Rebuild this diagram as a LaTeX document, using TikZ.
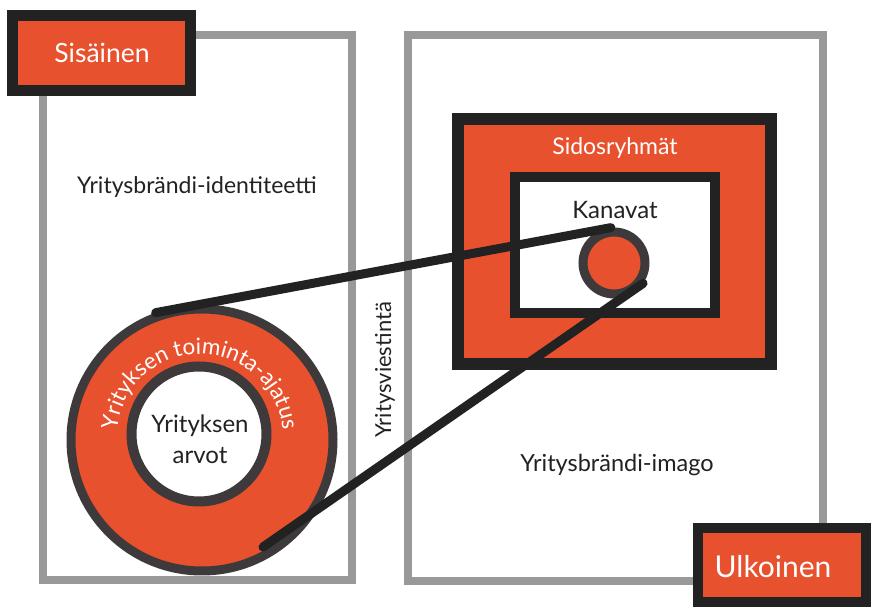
\documentclass[tikz,border=0pt]{standalone}
\usepackage{fontspec}
\setmainfont{Lato}
\usetikzlibrary{decorations.text}
\definecolor{brandorange}{HTML}{E8512E}
\definecolor{inkblack}{HTML}{222222}
\definecolor{ringgray}{HTML}{3E3A3B}
\definecolor{framegray}{HTML}{999999}
\begin{document}
\begin{tikzpicture}[x=1pt,y=1pt,
  frame/.style={draw=framegray, line width=8pt, rectangle, inner sep=0pt},
  inkbox/.style={draw=inkblack, fill=brandorange, line width=11pt, rectangle, inner sep=0pt},
  hole/.style={draw=inkblack, fill=white, line width=10pt, rectangle, inner sep=0pt},
  disc/.style={circle, draw=ringgray, fill=brandorange, inner sep=0pt},
  belt/.style={draw=inkblack, line width=9pt, line cap=round},
  lbl/.style={font=\fontsize{23}{26}\selectfont, text=inkblack, inner sep=0pt},
  wlbl/.style={font=\fontsize{23}{26}\selectfont, text=white, inner sep=0pt},
  biglbl/.style={text=white, inner sep=0pt}]
\path[use as bounding box, clip] (0,0) rectangle (871,607);
\fill[white] (0,0) rectangle (871,607);
% frames
\node[frame, minimum width=309, minimum height=545] (inside) at (197.5,299.5) {};
\node[frame, minimum width=415, minimum height=546] (outside) at (615.5,299) {};
% stakeholders / channels
\node[inkbox, line width=12pt, minimum width=313, minimum height=245] (sidos) at (614.5,365.5) {};
\node[hole, minimum width=200, minimum height=136] (kanavabox) at (615,362) {};
\node[wlbl] (sidoslbl) at (615,459) {Sidosryhmät};
\node[lbl, font=\fontsize{24}{26}\selectfont] (kanavat) at (615,397) {Kanavat};
\node[disc, line width=9pt, minimum size=62] (chan) at (614,344) {};
% big ring
\node[disc, line width=9pt, minimum size=262] (ring) at (202,167) {};
\node[circle, draw=ringgray, fill=white, line width=10pt, minimum size=135, inner sep=0pt] (core) at (199,173) {};
\path[decorate, decoration={text along path, text align=center,
  text={|\fontsize{22.5}{26}\selectfont\color{white}|Yrityksen toiminta-ajatus}}]
  (200,170) ++(200:83) arc[start angle=200, end angle=-20, radius=83];
\node[lbl, font=\fontsize{24}{26}\selectfont, align=center] (arvot) at (200,168) {Yrityksen\\[5pt]arvot};
% texts
\node[lbl] (ident) at (197,420) {Yritysbrändi-identiteetti};
\node[lbl, font=\fontsize{23.5}{26}\selectfont] (imago) at (617,142) {Yritysbrändi-imago};
\node[lbl, font=\fontsize{22}{26}\selectfont, rotate=90] (viest) at (385,237) {Yritysviestintä};
% belts
\coordinate (b2s) at (263,60);
\draw[belt] (ring.110) -- (chan.95);
\draw[belt] (b2s) -- (chan.-35);
% corner labels
\node[inkbox, minimum width=177.5, minimum height=75.5] (sis) at (101.25,553.75) {};
\node[biglbl, font=\fontsize{26.5}{30}\selectfont] (sislbl) at (102,554) {Sisäinen};
\node[inkbox, line width=10pt, minimum width=168, minimum height=74] (ulk) at (782,42) {};
\node[biglbl, font=\fontsize{30}{32}\selectfont] (ulklbl) at (773,40) {Ulkoinen};
\end{tikzpicture}
\end{document}
